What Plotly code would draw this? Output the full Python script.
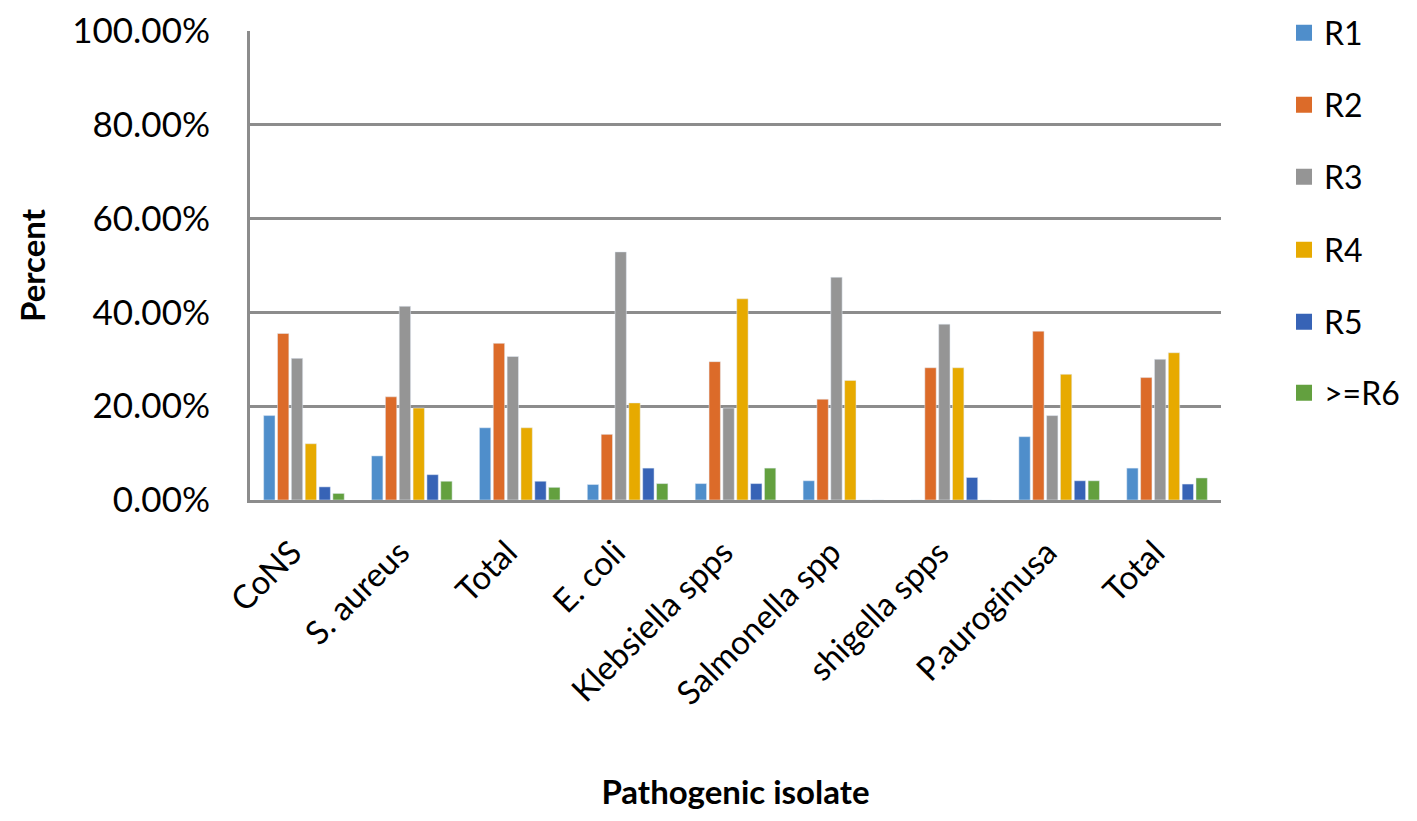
import plotly.graph_objects as go

# pathogenic isolates (two separate "Total" rows, so positions are used on the axis)
ISOLATES = ["CoNS", "S. aureus", "Total", "E. coli", "Klebsiella spps",
            "Salmonella spp", "shigella spps", "P.auroginusa", "Total"]

# percent of isolates per resistance class
R1 = [18.0, 9.4, 15.4, 3.3, 3.5, 4.1, 0.0, 13.5, 6.8]
R2 = [35.5, 22.0, 33.4, 14.0, 29.5, 21.5, 28.2, 36.0, 26.1]
R3 = [30.2, 41.3, 30.6, 52.9, 19.6, 47.5, 37.5, 18.0, 30.0]
R4 = [12.0, 19.6, 15.4, 20.7, 42.9, 25.5, 28.2, 26.8, 31.4]
R5 = [2.8, 5.4, 4.0, 6.8, 3.5, 0.0, 4.8, 4.1, 3.4]
R6 = [1.4, 4.0, 2.7, 3.5, 6.8, 0.0, 0.0, 4.1, 4.7]

SERIES = [
    ("R1", R1, "#4f8ecb"),
    ("R2", R2, "#dc6b29"),
    ("R3", R3, "#959595"),
    ("R4", R4, "#e7aa00"),
    ("R5", R5, "#3763b6"),
    (">=R6", R6, "#63a03f"),
]

Y_TICKS = [0, 20, 40, 60, 80, 100]
Y_TICKTEXT = [f"{v:.2f}%" for v in Y_TICKS]

FONT = "Lato, 'Open Sans', sans-serif"
GRID = "#8c8c8c"
H = 821

# one small legend per series so the entries can be spread out like the original
LEGEND_ROWS = [25, 97, 169, 242, 314, 385]

x_pos = list(range(len(ISOLATES)))

fig = go.Figure()
legends = {}
for i, (name, vals, color) in enumerate(SERIES):
    lg = "legend" if i == 0 else f"legend{i + 1}"
    fig.add_trace(go.Bar(
        x=x_pos, y=vals, name=name, marker_color=color,
        showlegend=False, hoverinfo="x+y",
    ))
    # legend entry with a bigger square swatch
    fig.add_trace(go.Scatter(
        x=[None], y=[None], mode="markers", name=name,
        marker=dict(symbol="square", size=16, color=color),
        legend=lg,
    ))
    legends[lg] = dict(
        xref="container", yref="container",
        x=0.9005, y=1 - LEGEND_ROWS[i] / H, xanchor="left", yanchor="middle",
        font=dict(size=32), itemwidth=30, bgcolor="rgba(0,0,0,0)",
    )

fig.update_layout(
    width=1417, height=H,
    margin=dict(l=242, r=204, t=23, b=329, autoexpand=False),
    paper_bgcolor="white", plot_bgcolor="white",
    font=dict(family=FONT, size=34, color="black"),
    barmode="group", bargap=0.23, bargroupgap=0.18,
    showlegend=True,
    **legends,
)
fig.update_xaxes(
    tickmode="array", tickvals=x_pos, ticktext=ISOLATES,
    range=[-0.5, len(ISOLATES) - 0.5], tickangle=-45,
    tickfont=dict(size=33), showgrid=False, zeroline=False,
    showline=True, linecolor=GRID, linewidth=3, ticks="",
    ticklabelstandoff=17, ticklabelshift=-12, automargin=False,
    ticklabeloverflow="allow",
    title=dict(text="<b>Pathogenic isolate</b>", font=dict(size=33), standoff=70),
)
fig.update_yaxes(
    range=[0, 100], tickmode="array", tickvals=Y_TICKS, ticktext=Y_TICKTEXT,
    tickfont=dict(size=35), showgrid=True, gridcolor=GRID, gridwidth=2.5,
    zeroline=False, showline=True, linecolor=GRID, linewidth=3,
    ticks="", ticklabelstandoff=30, automargin=False,
    ticklabeloverflow="allow",
    title=dict(text="<b>Percent</b>", font=dict(size=33), standoff=17),
)

fig.write_html("out.html")
